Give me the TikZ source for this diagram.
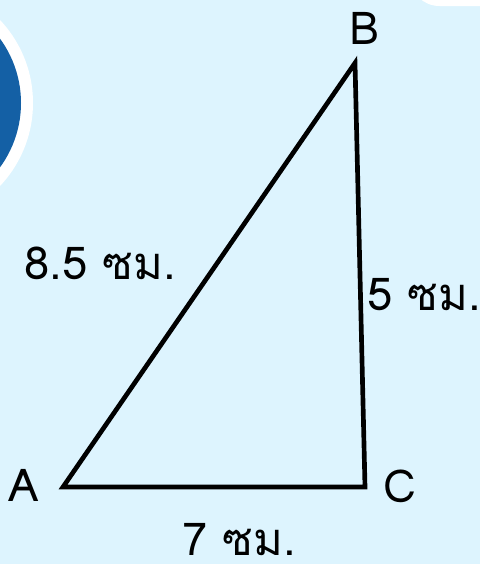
\documentclass[tikz,border=0pt]{standalone}
\usepackage{fontspec}
\setmainfont[Script=Thai]{Loma}
\definecolor{bg}{HTML}{DDF4FE}
\definecolor{dblue}{HTML}{1460A5}
\begin{document}
\begin{tikzpicture}[x=0.75pt,y=-0.75pt,
  lbl/.style={font=\fontsize{34pt}{38pt}\selectfont, inner sep=0pt, anchor=base},
  side/.style={line width=3.5pt, black}]
\fill[bg] (0,0) rectangle (480,564);
\useasboundingbox (0,0) rectangle (480,564);
\begin{scope}
\clip (0,0) rectangle (480,564);
\fill[white] (-88,103) circle (121);
\fill[dblue] (-88,103) circle (109);
\fill[white, rounded corners=22pt] (410,-60) rectangle (520,6);
\end{scope}
\coordinate (A) at (63,487);
\coordinate (C) at (365,487);
\coordinate (B) at (355,63);
\draw[side] (A) -- (C) -- (B) -- cycle;
\node[lbl] (lA) at (24,501) {A};
\node[lbl] (lB) at (365,44) {B};
\node[lbl] (lC) at (400,502) {C};
\node[lbl] (l85) at (100,279) {8.5 ซม.};
\node[lbl] (l5) at (424,310) {5 ซม.};
\node[lbl, text depth=1pt] (l7) at (239,555) {7 ซม.};
\end{tikzpicture}
\end{document}
